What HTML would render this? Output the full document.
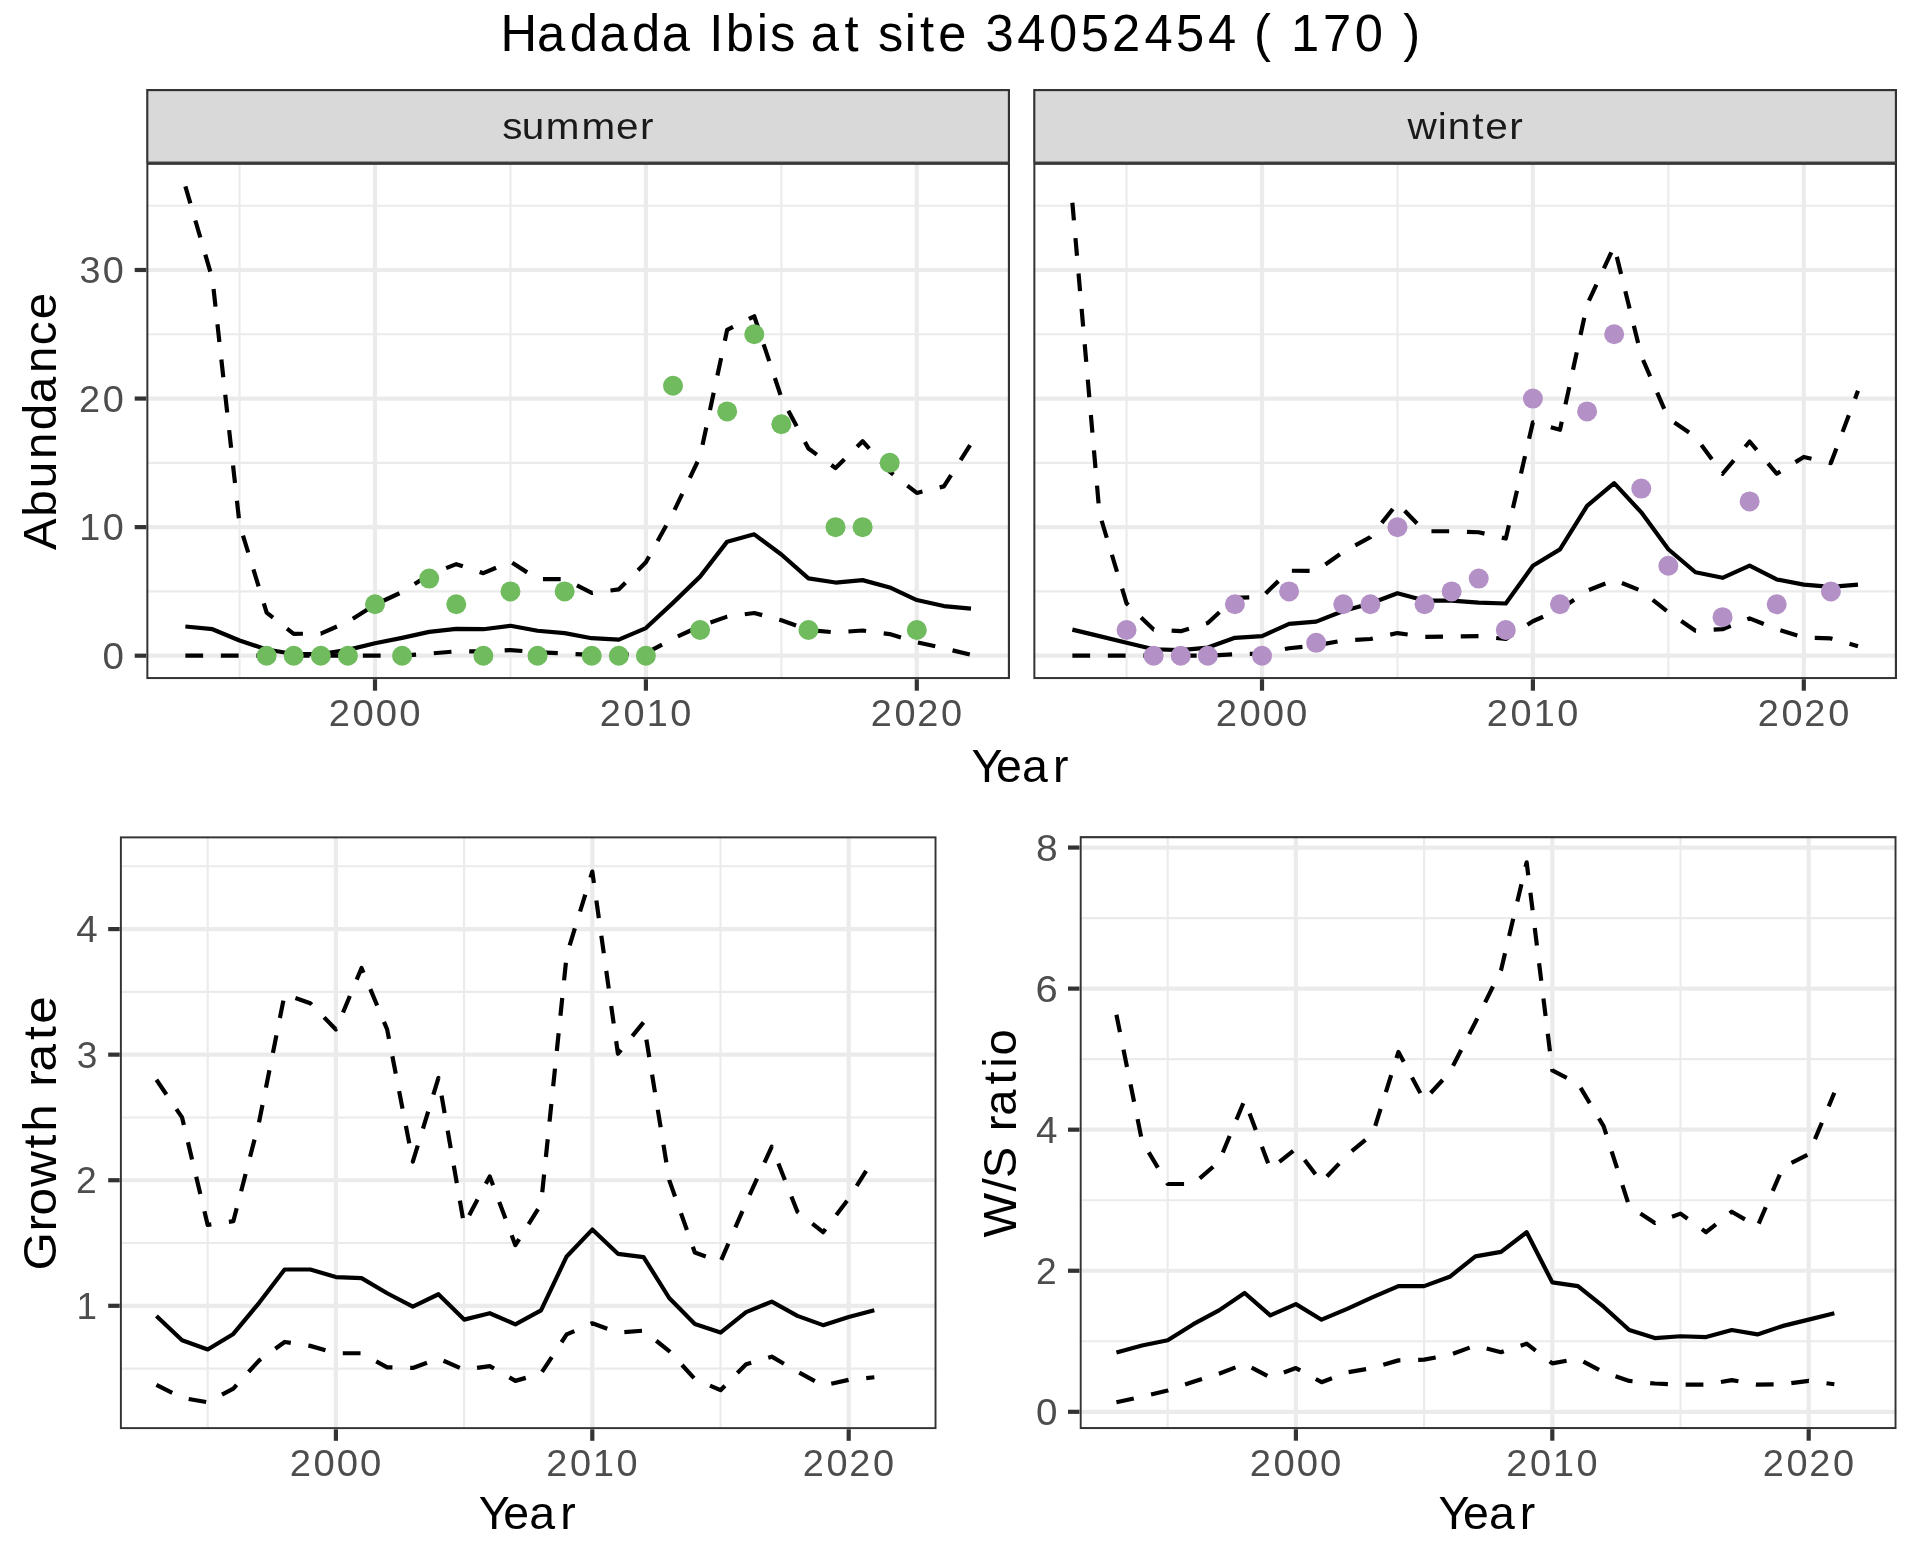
<!DOCTYPE html><html><head><meta charset="utf-8"><style>html,body{margin:0;padding:0;background:#fff;width:1920px;height:1560px;overflow:hidden}svg{display:block;will-change:transform}text{font-family:"Liberation Sans",sans-serif}</style></head><body>
<svg width="1920" height="1560" viewBox="0 0 1920 1560">
<rect width="1920" height="1560" fill="#FFFFFF"/>
<text transform="translate(0,50.90) scale(0.9846,1)" x="508.38 545.44 578.66 608.79 642.01 672.15 703.90 720.37 737.16 768.61 782.06 807.82 823.32 857.76 874.99 891.84 918.95 934.37 953.01 982.85 1000.88 1033.11 1065.43 1097.55 1129.38 1162.35 1194.48 1226.97 1257.46 1273.65 1293.42 1311.14 1343.60 1376.01 1406.49 1425.26" y="0" font-size="51.5" fill="#000000">Hadada Ibis at site 34052454 ( 170 )</text>
<rect x="147.275" y="90.075" width="861.650" height="72.550" fill="#D9D9D9" stroke="#333333" stroke-width="2.15"/>
<text transform="translate(0,138.60) scale(1.0792,1)" x="465.36 483.55 505.76 538.77 570.86 592.96" y="0" font-size="37.5" fill="#1A1A1A">summer</text>
<rect x="1034.275" y="90.075" width="861.650" height="72.550" fill="#D9D9D9" stroke="#333333" stroke-width="2.15"/>
<text transform="translate(0,138.60) scale(1.0840,1)" x="1298.46 1326.43 1335.66 1358.09 1370.10 1392.20" y="0" font-size="37.5" fill="#1A1A1A">winter</text>
<clipPath id="cS"><rect x="146.2" y="162.7" width="863.80" height="516.50"/></clipPath>
<g clip-path="url(#cS)">
<rect x="146.2" y="162.7" width="863.80" height="516.50" fill="#FFFFFF"/>
<line x1="146.2" x2="1010.0" y1="591.42" y2="591.42" stroke="#EBEBEB" stroke-width="2.1"/>
<line x1="146.2" x2="1010.0" y1="462.85" y2="462.85" stroke="#EBEBEB" stroke-width="2.1"/>
<line x1="146.2" x2="1010.0" y1="334.28" y2="334.28" stroke="#EBEBEB" stroke-width="2.1"/>
<line x1="146.2" x2="1010.0" y1="205.71" y2="205.71" stroke="#EBEBEB" stroke-width="2.1"/>
<line x1="239.55" x2="239.55" y1="162.7" y2="679.2" stroke="#EBEBEB" stroke-width="2.1"/>
<line x1="510.45" x2="510.45" y1="162.7" y2="679.2" stroke="#EBEBEB" stroke-width="2.1"/>
<line x1="781.35" x2="781.35" y1="162.7" y2="679.2" stroke="#EBEBEB" stroke-width="2.1"/>
<line x1="146.2" x2="1010.0" y1="655.70" y2="655.70" stroke="#EBEBEB" stroke-width="4.2"/>
<line x1="146.2" x2="1010.0" y1="527.13" y2="527.13" stroke="#EBEBEB" stroke-width="4.2"/>
<line x1="146.2" x2="1010.0" y1="398.56" y2="398.56" stroke="#EBEBEB" stroke-width="4.2"/>
<line x1="146.2" x2="1010.0" y1="269.99" y2="269.99" stroke="#EBEBEB" stroke-width="4.2"/>
<line x1="375.00" x2="375.00" y1="162.7" y2="679.2" stroke="#EBEBEB" stroke-width="4.2"/>
<line x1="645.90" x2="645.90" y1="162.7" y2="679.2" stroke="#EBEBEB" stroke-width="4.2"/>
<line x1="916.80" x2="916.80" y1="162.7" y2="679.2" stroke="#EBEBEB" stroke-width="4.2"/>
<polyline points="185.37,626.51 212.46,629.21 239.55,640.53 266.64,649.53 293.73,654.03 320.82,654.03 347.91,649.91 375.00,643.23 402.09,637.83 429.18,631.91 456.27,628.96 483.36,629.21 510.45,625.74 537.54,630.76 564.63,633.07 591.72,638.21 618.81,639.63 645.90,628.06 672.99,602.86 700.08,576.63 727.17,541.66 754.26,534.33 781.35,554.52 808.44,578.43 835.53,582.54 862.62,580.10 889.71,587.43 916.80,600.03 943.89,606.07 970.98,608.64" fill="none" stroke="#000" stroke-width="4.2" stroke-linejoin="round" stroke-linecap="butt"/>
<polyline points="185.37,186.42 212.46,278.99 239.55,524.30 266.64,612.63 293.73,633.84 320.82,633.59 347.91,621.76 375.00,604.66 402.09,592.06 429.18,574.70 456.27,564.16 483.36,573.16 510.45,561.59 537.54,579.07 564.63,579.20 591.72,592.96 618.81,589.36 645.90,562.36 672.99,513.12 700.08,456.42 727.17,329.78 754.26,316.28 781.35,397.40 808.44,448.57 835.53,467.99 862.62,441.25 889.71,471.72 916.80,492.93 943.89,486.37 970.98,443.69" fill="none" stroke="#000" stroke-width="4.2" stroke-linejoin="round" stroke-linecap="butt" stroke-dasharray="17.75 17.75"/>
<polyline points="185.37,655.70 212.46,655.70 239.55,655.70 266.64,655.70 293.73,655.70 320.82,655.70 347.91,655.70 375.00,655.70 402.09,655.70 429.18,653.64 456.27,651.33 483.36,651.33 510.45,650.04 537.54,652.23 564.63,653.51 591.72,654.93 618.81,654.93 645.90,653.13 672.99,638.73 700.08,626.13 727.17,616.61 754.26,613.01 781.35,620.34 808.44,629.99 835.53,632.43 862.62,630.50 889.71,634.10 916.80,642.20 943.89,648.24 970.98,654.80" fill="none" stroke="#000" stroke-width="4.2" stroke-linejoin="round" stroke-linecap="butt" stroke-dasharray="17.75 17.75"/>
<circle cx="266.64" cy="655.70" r="10" fill="#70BB5E"/>
<circle cx="293.73" cy="655.70" r="10" fill="#70BB5E"/>
<circle cx="320.82" cy="655.70" r="10" fill="#70BB5E"/>
<circle cx="347.91" cy="655.70" r="10" fill="#70BB5E"/>
<circle cx="375.00" cy="604.27" r="10" fill="#70BB5E"/>
<circle cx="402.09" cy="655.70" r="10" fill="#70BB5E"/>
<circle cx="429.18" cy="578.56" r="10" fill="#70BB5E"/>
<circle cx="456.27" cy="604.27" r="10" fill="#70BB5E"/>
<circle cx="483.36" cy="655.70" r="10" fill="#70BB5E"/>
<circle cx="510.45" cy="591.42" r="10" fill="#70BB5E"/>
<circle cx="537.54" cy="655.70" r="10" fill="#70BB5E"/>
<circle cx="564.63" cy="591.42" r="10" fill="#70BB5E"/>
<circle cx="591.72" cy="655.70" r="10" fill="#70BB5E"/>
<circle cx="618.81" cy="655.70" r="10" fill="#70BB5E"/>
<circle cx="645.90" cy="655.70" r="10" fill="#70BB5E"/>
<circle cx="672.99" cy="385.70" r="10" fill="#70BB5E"/>
<circle cx="700.08" cy="629.99" r="10" fill="#70BB5E"/>
<circle cx="727.17" cy="411.42" r="10" fill="#70BB5E"/>
<circle cx="754.26" cy="334.28" r="10" fill="#70BB5E"/>
<circle cx="781.35" cy="424.27" r="10" fill="#70BB5E"/>
<circle cx="808.44" cy="629.99" r="10" fill="#70BB5E"/>
<circle cx="835.53" cy="527.13" r="10" fill="#70BB5E"/>
<circle cx="862.62" cy="527.13" r="10" fill="#70BB5E"/>
<circle cx="889.71" cy="462.85" r="10" fill="#70BB5E"/>
<circle cx="916.80" cy="629.99" r="10" fill="#70BB5E"/>
<rect x="147.275" y="163.775" width="861.650" height="514.350" fill="none" stroke="#333333" stroke-width="2.15"/>
</g>
<line x1="134.70" x2="146.2" y1="655.70" y2="655.70" stroke="#333333" stroke-width="4.2"/>
<line x1="134.70" x2="146.2" y1="527.13" y2="527.13" stroke="#333333" stroke-width="4.2"/>
<line x1="134.70" x2="146.2" y1="398.56" y2="398.56" stroke="#333333" stroke-width="4.2"/>
<line x1="134.70" x2="146.2" y1="269.99" y2="269.99" stroke="#333333" stroke-width="4.2"/>
<text transform="translate(0,668.64) scale(1.0288,1)" x="99.74" y="0" font-size="37.5" fill="#4D4D4D">0</text>
<text transform="translate(0,540.07) scale(1.0071,1)" x="78.82 102.13" y="0" font-size="37.5" fill="#4D4D4D">10</text>
<text transform="translate(0,411.50) scale(1.0108,1)" x="78.19 101.70" y="0" font-size="37.5" fill="#4D4D4D">20</text>
<text transform="translate(0,282.93) scale(1.0087,1)" x="78.91 101.95" y="0" font-size="37.5" fill="#4D4D4D">30</text>
<line x1="375.00" x2="375.00" y1="679.2" y2="690.70" stroke="#333333" stroke-width="4.2"/>
<text transform="translate(0,726.00) scale(1.0199,1)" x="322.40 345.70 368.53 391.36" y="0" font-size="37.5" fill="#4D4D4D">2000</text>
<line x1="645.90" x2="645.90" y1="679.2" y2="690.70" stroke="#333333" stroke-width="4.2"/>
<text transform="translate(0,726.00) scale(1.0089,1)" x="594.55 618.11 641.00 664.27" y="0" font-size="37.5" fill="#4D4D4D">2010</text>
<line x1="916.80" x2="916.80" y1="679.2" y2="690.70" stroke="#333333" stroke-width="4.2"/>
<text transform="translate(0,726.00) scale(1.0108,1)" x="861.45 884.96 907.53 931.04" y="0" font-size="37.5" fill="#4D4D4D">2020</text>
<clipPath id="cW"><rect x="1033.2" y="162.7" width="863.80" height="516.50"/></clipPath>
<g clip-path="url(#cW)">
<rect x="1033.2" y="162.7" width="863.80" height="516.50" fill="#FFFFFF"/>
<line x1="1033.2" x2="1897.0" y1="591.42" y2="591.42" stroke="#EBEBEB" stroke-width="2.1"/>
<line x1="1033.2" x2="1897.0" y1="462.85" y2="462.85" stroke="#EBEBEB" stroke-width="2.1"/>
<line x1="1033.2" x2="1897.0" y1="334.28" y2="334.28" stroke="#EBEBEB" stroke-width="2.1"/>
<line x1="1033.2" x2="1897.0" y1="205.71" y2="205.71" stroke="#EBEBEB" stroke-width="2.1"/>
<line x1="1126.55" x2="1126.55" y1="162.7" y2="679.2" stroke="#EBEBEB" stroke-width="2.1"/>
<line x1="1397.45" x2="1397.45" y1="162.7" y2="679.2" stroke="#EBEBEB" stroke-width="2.1"/>
<line x1="1668.35" x2="1668.35" y1="162.7" y2="679.2" stroke="#EBEBEB" stroke-width="2.1"/>
<line x1="1033.2" x2="1897.0" y1="655.70" y2="655.70" stroke="#EBEBEB" stroke-width="4.2"/>
<line x1="1033.2" x2="1897.0" y1="527.13" y2="527.13" stroke="#EBEBEB" stroke-width="4.2"/>
<line x1="1033.2" x2="1897.0" y1="398.56" y2="398.56" stroke="#EBEBEB" stroke-width="4.2"/>
<line x1="1033.2" x2="1897.0" y1="269.99" y2="269.99" stroke="#EBEBEB" stroke-width="4.2"/>
<line x1="1262.00" x2="1262.00" y1="162.7" y2="679.2" stroke="#EBEBEB" stroke-width="4.2"/>
<line x1="1532.90" x2="1532.90" y1="162.7" y2="679.2" stroke="#EBEBEB" stroke-width="4.2"/>
<line x1="1803.80" x2="1803.80" y1="162.7" y2="679.2" stroke="#EBEBEB" stroke-width="4.2"/>
<polyline points="1072.37,629.60 1099.46,636.16 1126.55,642.71 1153.64,649.27 1180.73,650.17 1207.82,647.60 1234.91,637.83 1262.00,636.16 1289.09,623.94 1316.18,621.63 1343.27,610.96 1370.36,603.50 1397.45,593.21 1424.54,600.54 1451.63,600.54 1478.72,602.60 1505.81,603.50 1532.90,565.70 1559.99,549.37 1587.08,505.92 1614.17,483.16 1641.26,512.34 1668.35,549.24 1695.44,572.26 1722.53,577.79 1749.62,565.57 1776.71,579.46 1803.80,584.60 1830.89,586.79 1857.98,584.60" fill="none" stroke="#000" stroke-width="4.2" stroke-linejoin="round" stroke-linecap="butt"/>
<polyline points="1072.37,202.75 1099.46,513.50 1126.55,603.37 1153.64,629.60 1180.73,631.14 1207.82,623.04 1234.91,597.84 1262.00,596.94 1289.09,570.72 1316.18,570.84 1343.27,551.94 1370.36,537.16 1397.45,503.22 1424.54,531.24 1451.63,531.24 1478.72,532.27 1505.81,538.57 1532.90,422.35 1559.99,429.80 1587.08,304.70 1614.17,246.20 1641.26,355.75 1668.35,418.49 1695.44,436.87 1722.53,473.77 1749.62,441.50 1776.71,473.77 1803.80,456.93 1830.89,463.10 1857.98,390.85" fill="none" stroke="#000" stroke-width="4.2" stroke-linejoin="round" stroke-linecap="butt" stroke-dasharray="17.75 17.75"/>
<polyline points="1072.37,655.70 1099.46,655.70 1126.55,655.70 1153.64,655.70 1180.73,655.70 1207.82,655.70 1234.91,654.16 1262.00,653.51 1289.09,648.24 1316.18,645.41 1343.27,640.40 1370.36,638.99 1397.45,633.07 1424.54,636.80 1451.63,636.54 1478.72,636.16 1505.81,638.99 1532.90,621.24 1559.99,609.41 1587.08,590.77 1614.17,579.97 1641.26,590.77 1668.35,612.24 1695.44,630.76 1722.53,629.21 1749.62,618.41 1776.71,629.21 1803.80,637.57 1830.89,638.47 1857.98,646.19" fill="none" stroke="#000" stroke-width="4.2" stroke-linejoin="round" stroke-linecap="butt" stroke-dasharray="17.75 17.75"/>
<circle cx="1126.55" cy="629.99" r="10" fill="#B391C6"/>
<circle cx="1153.64" cy="655.70" r="10" fill="#B391C6"/>
<circle cx="1180.73" cy="655.70" r="10" fill="#B391C6"/>
<circle cx="1207.82" cy="655.70" r="10" fill="#B391C6"/>
<circle cx="1234.91" cy="604.27" r="10" fill="#B391C6"/>
<circle cx="1262.00" cy="655.70" r="10" fill="#B391C6"/>
<circle cx="1289.09" cy="591.42" r="10" fill="#B391C6"/>
<circle cx="1316.18" cy="642.84" r="10" fill="#B391C6"/>
<circle cx="1343.27" cy="604.27" r="10" fill="#B391C6"/>
<circle cx="1370.36" cy="604.27" r="10" fill="#B391C6"/>
<circle cx="1397.45" cy="527.13" r="10" fill="#B391C6"/>
<circle cx="1424.54" cy="604.27" r="10" fill="#B391C6"/>
<circle cx="1451.63" cy="591.42" r="10" fill="#B391C6"/>
<circle cx="1478.72" cy="578.56" r="10" fill="#B391C6"/>
<circle cx="1505.81" cy="629.99" r="10" fill="#B391C6"/>
<circle cx="1532.90" cy="398.56" r="10" fill="#B391C6"/>
<circle cx="1559.99" cy="604.27" r="10" fill="#B391C6"/>
<circle cx="1587.08" cy="411.42" r="10" fill="#B391C6"/>
<circle cx="1614.17" cy="334.28" r="10" fill="#B391C6"/>
<circle cx="1641.26" cy="488.56" r="10" fill="#B391C6"/>
<circle cx="1668.35" cy="565.70" r="10" fill="#B391C6"/>
<circle cx="1722.53" cy="617.13" r="10" fill="#B391C6"/>
<circle cx="1749.62" cy="501.42" r="10" fill="#B391C6"/>
<circle cx="1776.71" cy="604.27" r="10" fill="#B391C6"/>
<circle cx="1830.89" cy="591.42" r="10" fill="#B391C6"/>
<rect x="1034.275" y="163.775" width="861.650" height="514.350" fill="none" stroke="#333333" stroke-width="2.15"/>
</g>
<line x1="1262.00" x2="1262.00" y1="679.2" y2="690.70" stroke="#333333" stroke-width="4.2"/>
<text transform="translate(0,726.00) scale(1.0199,1)" x="1192.07 1215.37 1238.20 1261.03" y="0" font-size="37.5" fill="#4D4D4D">2000</text>
<line x1="1532.90" x2="1532.90" y1="679.2" y2="690.70" stroke="#333333" stroke-width="4.2"/>
<text transform="translate(0,726.00) scale(1.0089,1)" x="1473.74 1497.30 1520.19 1543.46" y="0" font-size="37.5" fill="#4D4D4D">2010</text>
<line x1="1803.80" x2="1803.80" y1="679.2" y2="690.70" stroke="#333333" stroke-width="4.2"/>
<text transform="translate(0,726.00) scale(1.0108,1)" x="1739.02 1762.53 1785.09 1808.61" y="0" font-size="37.5" fill="#4D4D4D">2020</text>
<text transform="translate(0,781.70) scale(0.9877,1)" x="983.69 1008.39 1034.73 1066.04" y="0" font-size="47.0" fill="#000000">Year</text>
<text transform="translate(55.80,549.30) rotate(-90) scale(1.0124,1)" x="-0.58 32.12 60.39 89.23 117.52 144.29 174.24 201.67 227.30" y="0" font-size="47.0" fill="#000000">Abundance</text>
<clipPath id="cG"><rect x="119.7" y="836.2" width="817.00" height="593.10"/></clipPath>
<g clip-path="url(#cG)">
<rect x="119.7" y="836.2" width="817.00" height="593.10" fill="#FFFFFF"/>
<line x1="119.7" x2="936.7" y1="1368.59" y2="1368.59" stroke="#EBEBEB" stroke-width="2.1"/>
<line x1="119.7" x2="936.7" y1="1243.01" y2="1243.01" stroke="#EBEBEB" stroke-width="2.1"/>
<line x1="119.7" x2="936.7" y1="1117.44" y2="1117.44" stroke="#EBEBEB" stroke-width="2.1"/>
<line x1="119.7" x2="936.7" y1="991.88" y2="991.88" stroke="#EBEBEB" stroke-width="2.1"/>
<line x1="119.7" x2="936.7" y1="866.30" y2="866.30" stroke="#EBEBEB" stroke-width="2.1"/>
<line x1="207.70" x2="207.70" y1="836.2" y2="1429.3" stroke="#EBEBEB" stroke-width="2.1"/>
<line x1="464.10" x2="464.10" y1="836.2" y2="1429.3" stroke="#EBEBEB" stroke-width="2.1"/>
<line x1="720.50" x2="720.50" y1="836.2" y2="1429.3" stroke="#EBEBEB" stroke-width="2.1"/>
<line x1="119.7" x2="936.7" y1="1305.80" y2="1305.80" stroke="#EBEBEB" stroke-width="4.2"/>
<line x1="119.7" x2="936.7" y1="1180.23" y2="1180.23" stroke="#EBEBEB" stroke-width="4.2"/>
<line x1="119.7" x2="936.7" y1="1054.66" y2="1054.66" stroke="#EBEBEB" stroke-width="4.2"/>
<line x1="119.7" x2="936.7" y1="929.09" y2="929.09" stroke="#EBEBEB" stroke-width="4.2"/>
<line x1="335.90" x2="335.90" y1="836.2" y2="1429.3" stroke="#EBEBEB" stroke-width="4.2"/>
<line x1="592.30" x2="592.30" y1="836.2" y2="1429.3" stroke="#EBEBEB" stroke-width="4.2"/>
<line x1="848.70" x2="848.70" y1="836.2" y2="1429.3" stroke="#EBEBEB" stroke-width="4.2"/>
<polyline points="156.42,1315.97 182.06,1340.21 207.70,1349.50 233.34,1333.93 258.98,1303.04 284.62,1269.51 310.26,1269.51 335.90,1277.04 361.54,1278.17 387.18,1293.24 412.82,1306.55 438.46,1294.25 464.10,1319.61 489.74,1313.21 515.38,1324.38 541.02,1310.32 566.66,1256.45 592.30,1229.58 617.94,1253.81 643.58,1257.08 669.22,1298.01 694.86,1324.01 720.50,1332.55 746.14,1312.08 771.78,1301.66 797.42,1315.85 823.06,1325.14 848.70,1316.98 874.34,1310.32" fill="none" stroke="#000" stroke-width="4.2" stroke-linejoin="round" stroke-linecap="butt"/>
<polyline points="156.42,1079.77 182.06,1117.44 207.70,1224.93 233.34,1221.17 258.98,1122.47 284.62,994.39 310.26,1003.18 335.90,1029.55 361.54,968.02 387.18,1029.55 412.82,1161.65 438.46,1077.89 464.10,1224.81 489.74,1176.46 515.38,1245.15 541.02,1204.34 566.66,955.21 592.30,871.58 617.94,1053.78 643.58,1022.26 669.22,1180.10 694.86,1252.56 720.50,1261.85 746.14,1202.46 771.78,1146.70 797.42,1211.75 823.06,1232.22 848.70,1198.69 874.34,1157.75" fill="none" stroke="#000" stroke-width="4.2" stroke-linejoin="round" stroke-linecap="butt" stroke-dasharray="17.75 17.75"/>
<polyline points="156.42,1384.78 182.06,1397.84 207.70,1402.24 233.34,1388.55 258.98,1360.55 284.62,1341.96 310.26,1345.86 335.90,1353.27 361.54,1353.27 387.18,1367.33 412.82,1367.96 438.46,1358.54 464.10,1369.72 489.74,1366.07 515.38,1380.89 541.02,1373.48 566.66,1334.43 592.30,1323.25 617.94,1332.55 643.58,1330.66 669.22,1351.13 694.86,1379.01 720.50,1390.18 746.14,1364.19 771.78,1356.66 797.42,1371.60 823.06,1385.66 848.70,1379.89 874.34,1377.25" fill="none" stroke="#000" stroke-width="4.2" stroke-linejoin="round" stroke-linecap="butt" stroke-dasharray="17.75 17.75"/>
<rect x="120.775" y="837.275" width="814.850" height="590.950" fill="none" stroke="#333333" stroke-width="2.15"/>
</g>
<line x1="108.20" x2="119.7" y1="1305.80" y2="1305.80" stroke="#333333" stroke-width="4.2"/>
<line x1="108.20" x2="119.7" y1="1180.23" y2="1180.23" stroke="#333333" stroke-width="4.2"/>
<line x1="108.20" x2="119.7" y1="1054.66" y2="1054.66" stroke="#333333" stroke-width="4.2"/>
<line x1="108.20" x2="119.7" y1="929.09" y2="929.09" stroke="#333333" stroke-width="4.2"/>
<text transform="translate(0,1318.74) scale(0.9826,1)" x="77.88" y="0" font-size="37.5" fill="#4D4D4D">1</text>
<text transform="translate(0,1193.17) scale(0.9917,1)" x="76.76" y="0" font-size="37.5" fill="#4D4D4D">2</text>
<text transform="translate(0,1067.60) scale(0.9881,1)" x="77.62" y="0" font-size="37.5" fill="#4D4D4D">3</text>
<text transform="translate(0,942.03) scale(1.0290,1)" x="74.07" y="0" font-size="37.5" fill="#4D4D4D">4</text>
<line x1="335.90" x2="335.90" y1="1429.3" y2="1440.80" stroke="#333333" stroke-width="4.2"/>
<text transform="translate(0,1476.00) scale(1.0199,1)" x="284.06 307.36 330.19 353.03" y="0" font-size="37.5" fill="#4D4D4D">2000</text>
<line x1="592.30" x2="592.30" y1="1429.3" y2="1440.80" stroke="#333333" stroke-width="4.2"/>
<text transform="translate(0,1476.00) scale(1.0089,1)" x="541.42 564.98 587.88 611.14" y="0" font-size="37.5" fill="#4D4D4D">2010</text>
<line x1="848.70" x2="848.70" y1="1429.3" y2="1440.80" stroke="#333333" stroke-width="4.2"/>
<text transform="translate(0,1476.00) scale(1.0108,1)" x="794.08 817.59 840.15 863.67" y="0" font-size="37.5" fill="#4D4D4D">2020</text>
<text transform="translate(0,1528.70) scale(0.9877,1)" x="484.77 509.47 535.81 567.12" y="0" font-size="47.0" fill="#000000">Year</text>
<text transform="translate(56.20,1266.50) rotate(-90) scale(1.0552,1)" x="-3.89 33.07 48.27 75.34 111.94 127.79 154.58 170.27 184.77 214.65 230.16" y="0" font-size="47.0" fill="#000000">Growth rate</text>
<clipPath id="cR"><rect x="1079.5" y="836.1" width="817.20" height="593.10"/></clipPath>
<g clip-path="url(#cR)">
<rect x="1079.5" y="836.1" width="817.20" height="593.10" fill="#FFFFFF"/>
<line x1="1079.5" x2="1896.7" y1="1341.27" y2="1341.27" stroke="#EBEBEB" stroke-width="2.1"/>
<line x1="1079.5" x2="1896.7" y1="1200.21" y2="1200.21" stroke="#EBEBEB" stroke-width="2.1"/>
<line x1="1079.5" x2="1896.7" y1="1059.15" y2="1059.15" stroke="#EBEBEB" stroke-width="2.1"/>
<line x1="1079.5" x2="1896.7" y1="918.09" y2="918.09" stroke="#EBEBEB" stroke-width="2.1"/>
<line x1="1167.70" x2="1167.70" y1="836.1" y2="1429.2" stroke="#EBEBEB" stroke-width="2.1"/>
<line x1="1424.10" x2="1424.10" y1="836.1" y2="1429.2" stroke="#EBEBEB" stroke-width="2.1"/>
<line x1="1680.50" x2="1680.50" y1="836.1" y2="1429.2" stroke="#EBEBEB" stroke-width="2.1"/>
<line x1="1079.5" x2="1896.7" y1="1411.80" y2="1411.80" stroke="#EBEBEB" stroke-width="4.2"/>
<line x1="1079.5" x2="1896.7" y1="1270.74" y2="1270.74" stroke="#EBEBEB" stroke-width="4.2"/>
<line x1="1079.5" x2="1896.7" y1="1129.68" y2="1129.68" stroke="#EBEBEB" stroke-width="4.2"/>
<line x1="1079.5" x2="1896.7" y1="988.62" y2="988.62" stroke="#EBEBEB" stroke-width="4.2"/>
<line x1="1079.5" x2="1896.7" y1="847.56" y2="847.56" stroke="#EBEBEB" stroke-width="4.2"/>
<line x1="1295.90" x2="1295.90" y1="836.1" y2="1429.2" stroke="#EBEBEB" stroke-width="4.2"/>
<line x1="1552.30" x2="1552.30" y1="836.1" y2="1429.2" stroke="#EBEBEB" stroke-width="4.2"/>
<line x1="1808.70" x2="1808.70" y1="836.1" y2="1429.2" stroke="#EBEBEB" stroke-width="4.2"/>
<polyline points="1116.42,1352.48 1142.06,1345.50 1167.70,1340.21 1193.34,1324.20 1218.98,1310.38 1244.62,1293.03 1270.26,1315.31 1295.90,1304.10 1321.54,1319.69 1347.18,1308.83 1372.82,1297.19 1398.46,1286.12 1424.10,1286.12 1449.74,1276.81 1475.38,1256.42 1501.02,1251.91 1526.66,1232.23 1552.30,1282.38 1577.94,1286.12 1603.58,1306.71 1629.22,1329.99 1654.86,1338.10 1680.50,1336.26 1706.14,1337.04 1731.78,1329.99 1757.42,1334.43 1783.06,1325.89 1808.70,1319.62 1834.34,1313.20" fill="none" stroke="#000" stroke-width="4.2" stroke-linejoin="round" stroke-linecap="butt"/>
<polyline points="1116.42,1014.79 1142.06,1141.18 1167.70,1183.99 1193.34,1183.99 1218.98,1161.70 1244.62,1100.06 1270.26,1169.11 1295.90,1148.72 1321.54,1182.08 1347.18,1155.07 1372.82,1133.70 1398.46,1051.89 1424.10,1100.20 1449.74,1072.27 1475.38,1022.19 1501.02,970.14 1526.66,862.30 1552.30,1070.43 1577.94,1083.48 1603.58,1126.15 1629.22,1206.21 1654.86,1222.92 1680.50,1213.61 1706.14,1232.23 1731.78,1211.71 1757.42,1226.59 1783.06,1167.06 1808.70,1154.08 1834.34,1092.79" fill="none" stroke="#000" stroke-width="4.2" stroke-linejoin="round" stroke-linecap="butt" stroke-dasharray="17.75 17.75"/>
<polyline points="1116.42,1402.28 1142.06,1396.71 1167.70,1390.43 1193.34,1381.82 1218.98,1373.71 1244.62,1363.84 1270.26,1377.38 1295.90,1368.07 1321.54,1382.18 1347.18,1372.30 1372.82,1367.93 1398.46,1360.38 1424.10,1359.68 1449.74,1354.88 1475.38,1345.57 1501.02,1352.27 1526.66,1343.67 1552.30,1363.42 1577.94,1358.62 1603.58,1372.30 1629.22,1380.91 1654.86,1383.52 1680.50,1384.58 1706.14,1384.58 1731.78,1380.13 1757.42,1384.58 1783.06,1384.29 1808.70,1380.91 1834.34,1384.29" fill="none" stroke="#000" stroke-width="4.2" stroke-linejoin="round" stroke-linecap="butt" stroke-dasharray="17.75 17.75"/>
<rect x="1080.575" y="837.175" width="815.050" height="590.950" fill="none" stroke="#333333" stroke-width="2.15"/>
</g>
<line x1="1068.00" x2="1079.5" y1="1411.80" y2="1411.80" stroke="#333333" stroke-width="4.2"/>
<line x1="1068.00" x2="1079.5" y1="1270.74" y2="1270.74" stroke="#333333" stroke-width="4.2"/>
<line x1="1068.00" x2="1079.5" y1="1129.68" y2="1129.68" stroke="#333333" stroke-width="4.2"/>
<line x1="1068.00" x2="1079.5" y1="988.62" y2="988.62" stroke="#333333" stroke-width="4.2"/>
<line x1="1068.00" x2="1079.5" y1="847.56" y2="847.56" stroke="#333333" stroke-width="4.2"/>
<text transform="translate(0,1424.74) scale(1.0288,1)" x="1006.98" y="0" font-size="37.5" fill="#4D4D4D">0</text>
<text transform="translate(0,1283.68) scale(0.9917,1)" x="1044.60" y="0" font-size="37.5" fill="#4D4D4D">2</text>
<text transform="translate(0,1142.62) scale(1.0290,1)" x="1006.86" y="0" font-size="37.5" fill="#4D4D4D">4</text>
<text transform="translate(0,1001.56) scale(1.0648,1)" x="972.60" y="0" font-size="37.5" fill="#4D4D4D">6</text>
<text transform="translate(0,860.50) scale(1.0400,1)" x="996.08" y="0" font-size="37.5" fill="#4D4D4D">8</text>
<line x1="1295.90" x2="1295.90" y1="1429.2" y2="1440.70" stroke="#333333" stroke-width="4.2"/>
<text transform="translate(0,1476.00) scale(1.0199,1)" x="1225.31 1248.61 1271.44 1294.27" y="0" font-size="37.5" fill="#4D4D4D">2000</text>
<line x1="1552.30" x2="1552.30" y1="1429.2" y2="1440.70" stroke="#333333" stroke-width="4.2"/>
<text transform="translate(0,1476.00) scale(1.0089,1)" x="1492.97 1516.52 1539.42 1562.69" y="0" font-size="37.5" fill="#4D4D4D">2010</text>
<line x1="1808.70" x2="1808.70" y1="1429.2" y2="1440.70" stroke="#333333" stroke-width="4.2"/>
<text transform="translate(0,1476.00) scale(1.0108,1)" x="1743.86 1767.38 1789.94 1813.46" y="0" font-size="37.5" fill="#4D4D4D">2020</text>
<text transform="translate(0,1528.70) scale(0.9877,1)" x="1456.44 1481.14 1507.47 1538.79" y="0" font-size="47.0" fill="#000000">Year</text>
<text transform="translate(1015.80,1236.20) rotate(-90) scale(1.0066,1)" x="-1.26 44.49 57.64 87.47 104.30 119.70 150.63 167.27 179.60" y="0" font-size="47.0" fill="#000000">W/S ratio</text>
</svg></body></html>
